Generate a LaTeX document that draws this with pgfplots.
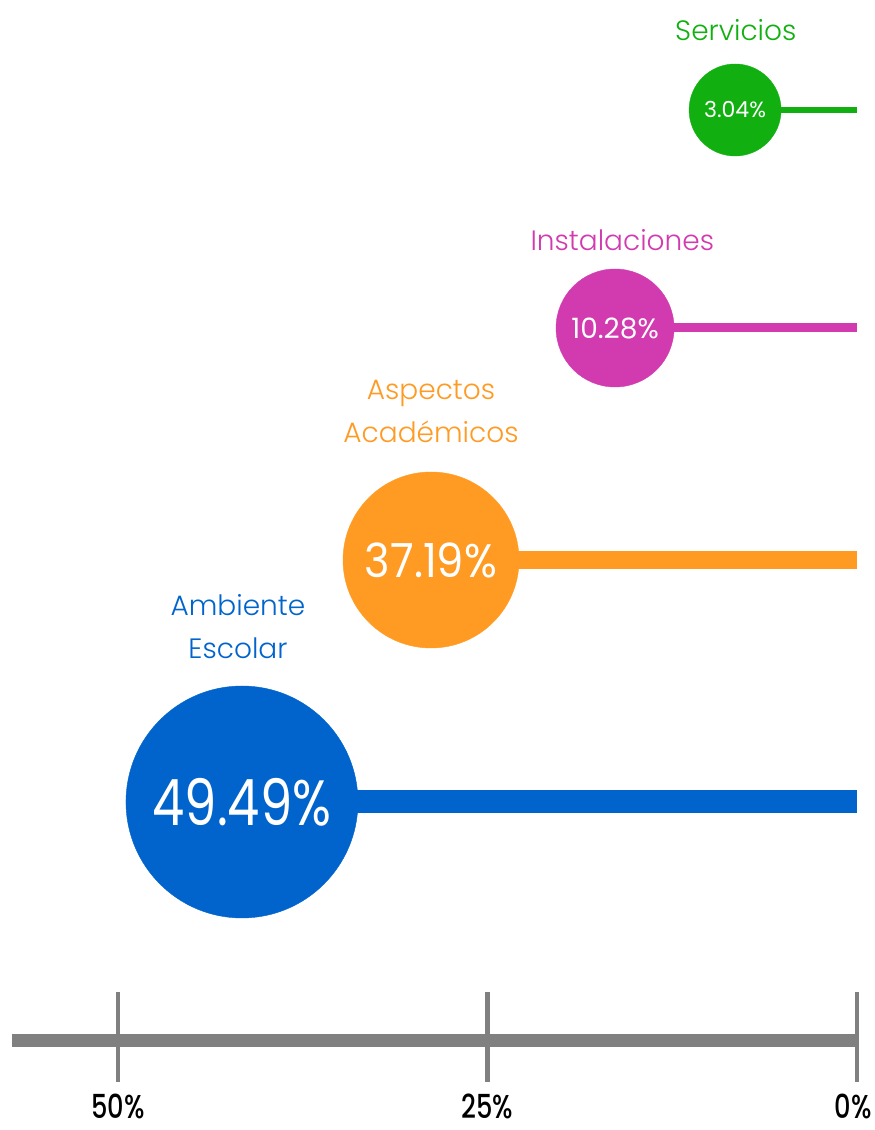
\documentclass[border=0pt]{standalone}
\usepackage{pgfplots}
\pgfplotsset{compat=1.18}
\usepackage{fontspec}
\setmainfont{Poppins}
\newfontfamily\lightf{Poppins Light}
\newfontfamily\condf{Poppins Medium}[FakeStretch=0.78]
\newfontfamily\valA{Poppins}[FakeStretch=0.8]
\newfontfamily\valB{Poppins}[FakeStretch=0.92]
\definecolor{cgreen}{HTML}{11B010}
\definecolor{cpink}{HTML}{D23AB0}
\definecolor{corange}{HTML}{FF9A22}
\definecolor{cblue}{HTML}{0064CC}
\definecolor{cgray}{HTML}{808080}
\begin{document}
\begin{tikzpicture}
\begin{axis}[
  width=874pt, height=1130pt, scale only axis,
  x dir=reverse, y dir=reverse,
  xmin=-1.15, xmax=57.98, ymin=0, ymax=1130,
  hide axis, clip=false, set layers=standard,
]
\path (axis cs:-1.15,0) rectangle (axis cs:57.98,1130);
% axis line and ticks
\addplot[cgray, line width=13pt] coordinates {(57.2,1041) (0,1041)};
\addplot[cgray, line width=4.5pt] coordinates {(50,992) (50,1082)};
\addplot[cgray, line width=4.5pt] coordinates {(25,992) (25,1082)};
\addplot[cgray, line width=4.5pt] coordinates {(0,992) (0,1082)};
\node[font=\condf\fontsize{33}{33}\selectfont, anchor=base, inner sep=0pt] at (axis cs:50,1119) {50\%};
\node[font=\condf\fontsize{33}{33}\selectfont, anchor=base, inner sep=0pt] at (axis cs:25,1119) {25\%};
\node[font=\condf\fontsize{33}{33}\selectfont, anchor=base east, inner sep=0pt] at (axis cs:-1.0,1119) {0\%};
% stems
\addplot[cblue, line width=23pt] coordinates {(41.61,802) (0,802)};
\addplot[corange, line width=18pt] coordinates {(28.82,560) (0,560)};
\addplot[cpink, line width=9pt] coordinates {(16.37,328) (0,328)};
\addplot[cgreen, line width=6pt] coordinates {(8.25,110) (0,110)};
% circles
\addplot[cblue, only marks, mark=*, mark size=116pt, mark options={draw=cblue, fill=cblue}] coordinates {(41.61,802)};
\addplot[corange, only marks, mark=*, mark size=88pt, mark options={draw=corange, fill=corange}] coordinates {(28.82,560)};
\addplot[cpink, only marks, mark=*, mark size=59pt, mark options={draw=cpink, fill=cpink}] coordinates {(16.37,328)};
\addplot[cgreen, only marks, mark=*, mark size=46pt, mark options={draw=cgreen, fill=cgreen}] coordinates {(8.25,110)};
% values
\begin{pgfonlayer}{axis foreground}
\node[text=white, font=\valA\fontsize{64}{64}\selectfont] at (axis cs:41.61,802) {49.49\%};
\node[text=white, font=\valB\fontsize{47}{47}\selectfont] at (axis cs:28.82,560) {37.19\%};
\node[text=white, font=\fontsize{28}{28}\selectfont] at (axis cs:16.37,328) {10.28\%};
\node[text=white, font=\fontsize{22}{22}\selectfont] at (axis cs:8.25,110) {3.04\%};
\end{pgfonlayer}
% labels
\node[text=cgreen, font=\lightf\fontsize{28}{28}\selectfont] at (axis cs:8.2,30) {Servicios};
\node[text=cpink, font=\lightf\fontsize{28}{28}\selectfont] at (axis cs:15.88,240) {Instalaciones};
\node[text=corange, font=\lightf\fontsize{28}{43}\selectfont, align=center] at (axis cs:28.82,411) {Aspectos\\Académicos};
\node[text=cblue, font=\lightf\fontsize{28}{43}\selectfont, align=center] at (axis cs:41.88,627) {Ambiente\\Escolar};
\end{axis}
\end{tikzpicture}
\end{document}
